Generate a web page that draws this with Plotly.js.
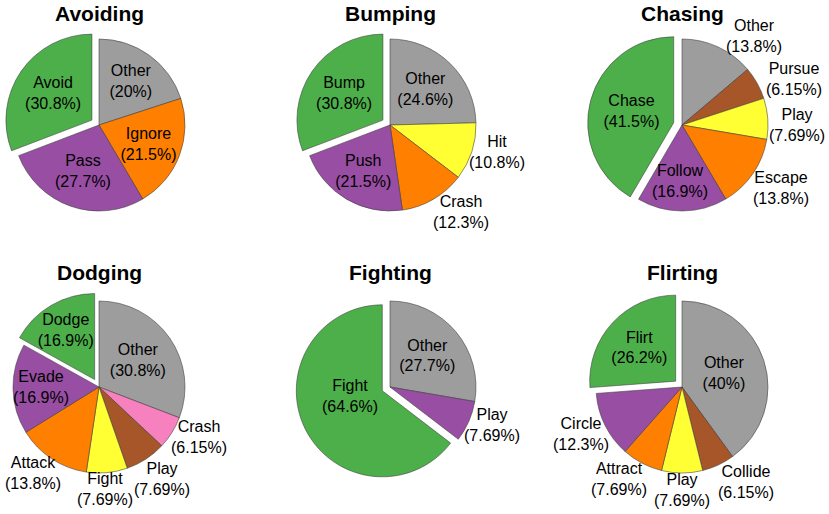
<!DOCTYPE html>
<html><head><meta charset="utf-8">
<script src="https://cdn.plot.ly/plotly-3.0.1.min.js"></script>
<style>body{margin:0;background:#fff}#c{width:829px;height:514px}</style>
</head><body><div id="c"></div>
<script>
const titles = ["Avoiding","Bumping","Chasing","Dodging","Fighting","Flirting"];
const avoidingLabels = ["Other","Ignore","Pass","Avoid"];
const avoidingValues = [20,21.5,27.7,30.8];
const bumpingLabels = ["Other","Hit","Crash","Push","Bump"];
const bumpingValues = [24.6,10.8,12.3,21.5,30.8];
const chasingLabels = ["Other","Pursue","Play","Escape","Follow","Chase"];
const chasingValues = [13.8,6.15,7.69,13.8,16.9,41.5];
const dodgingLabels = ["Other","Crash","Play","Fight","Attack","Evade","Dodge"];
const dodgingValues = [30.8,6.15,7.69,7.69,13.8,16.9,16.9];
const fightingLabels = ["Other","Play","Fight"];
const fightingValues = [27.7,7.69,64.6];
const flirtingLabels = ["Other","Collide","Play","Attract","Circle","Flirt"];
const flirtingValues = [40,6.15,7.69,7.69,12.3,26.2];

const C = {Other:"#9d9d9d",green:"#4daf4a",orange:"#ff7f00",purple:"#984ea3",yellow:"#ffff33",brown:"#a65628",pink:"#f781bf"};
// label placement modes: I = library inside text, O = outside annotation, A = annotation inside slice
const I="inside", O="outside", A="ann";
// label nudges in pixels (layout only)
const charts = [
 {labels:avoidingLabels, values:avoidingValues, colors:[C.Other,C.orange,C.purple,C.green], pos:[I,I,I,I], nudge:{}},
 {labels:bumpingLabels, values:bumpingValues, colors:[C.Other,C.yellow,C.orange,C.purple,C.green], pos:[I,O,O,I,I],
  nudge:{1:[-5,0],2:[-2,-9]}},
 {labels:chasingLabels, values:chasingValues, colors:[C.Other,C.brown,C.yellow,C.orange,C.purple,C.green], pos:[O,O,O,O,A,I],
  nudge:{0:[6,11],1:[6,-3],2:[-1,6],3:[-2,13],4:[-2,17]}},
 {labels:dodgingLabels, values:dodgingValues, colors:[C.Other,C.pink,C.brown,C.yellow,C.orange,C.purple,C.green], pos:[I,O,O,O,O,I,I],
  nudge:{1:[-3,3],2:[-14,-2],3:[-2,-5],4:[11,-7]}},
 {labels:fightingLabels, values:fightingValues, colors:[C.Other,C.purple,C.green], pos:[I,O,A],
  nudge:{1:[-7,3],2:[2,-12]}},
 {labels:flirtingLabels, values:flirtingValues, colors:[C.Other,C.brown,C.yellow,C.orange,C.purple,C.green], pos:[I,O,O,O,O,I],
  nudge:{1:[-2,-5],2:[0,-5],3:[7,-6],4:[7,8]}}
];
const W=829,H=514, R=86, PULL=0.1, K=1.02;
const centers=[[99,125],[390,125],[682,125],[99,387],[390,387],[682,387]];
const titleY=[13,13,13,272,272,272];
const half = R*(1+PULL);
const font = "Arial, 'Liberation Sans', sans-serif";
const fmt = (l,v)=> l+"<br>("+v+"%)";
const annotations = [];
const data = charts.map((c,i)=>{
  const [cx,cy]=centers[i];
  const total = c.values.reduce((a,b)=>a+b,0);
  let cum = 0;
  const n = c.values.length;
  c.values.forEach((v,j)=>{
    const mid = (cum + v/2)/total*2*Math.PI; cum += v;
    const s=Math.sin(mid), co=Math.cos(mid);
    const nd = c.nudge[j] || [0,0];
    const base = {text:fmt(c.labels[j],v), xref:"paper", yref:"paper", showarrow:false,
      align:"center", borderpad:0, font:{size:16,family:font,color:"#000"}};
    if (c.pos[j]===O) {
      annotations.push(Object.assign(base, {
        x:(cx + K*R*s + nd[0])/W, y:1-(cy - K*R*co + nd[1])/H,
        xanchor: Math.abs(s)<0.25 ? "center" : (s>0?"left":"right"),
        yanchor: co>0.7 ? "bottom" : (co<-0.7 ? "top" : "middle")
      }));
    } else if (c.pos[j]===A) {
      const p = (j===n-1 ? PULL : 0) + 0.45;
      annotations.push(Object.assign(base, {
        x:(cx + p*R*s + nd[0])/W, y:1-(cy - p*R*co + nd[1])/H, xanchor:"center", yanchor:"middle"
      }));
    }
  });
  return {
    type:"pie", labels:c.labels, values:c.values, sort:false, direction:"clockwise", rotation:0,
    pull:c.labels.map((l,j)=> j===n-1 ? PULL : 0),
    marker:{colors:c.colors, line:{color:"rgba(60,60,60,0.7)", width:0.8}},
    textposition:c.pos.map(p=>p===I?"inside":"none"),
    texttemplate:c.labels.map((l,j)=>fmt(l,c.values[j])), hoverinfo:"none",
    insidetextorientation:"horizontal",
    insidetextfont:{color:"#000", size:16, family:font},
    domain:{x:[(cx-half)/W,(cx+half)/W], y:[1-(cy+half)/H, 1-(cy-half)/H]},
    showlegend:false
  };
});
titles.forEach((t,i)=>annotations.push({
  text:"<b>"+t+"</b>", x:centers[i][0]/W, y:1-titleY[i]/H, xref:"paper", yref:"paper",
  showarrow:false, xanchor:"center", yanchor:"middle", font:{size:21, family:font, color:"#000"}
}));
Plotly.newPlot("c", data, {width:W,height:H,margin:{l:0,r:0,t:0,b:0},paper_bgcolor:"#fff",
  uniformtext:{mode:"show",minsize:16}, annotations:annotations,font:{family:font}}, {staticPlot:true});
</script></body></html>
